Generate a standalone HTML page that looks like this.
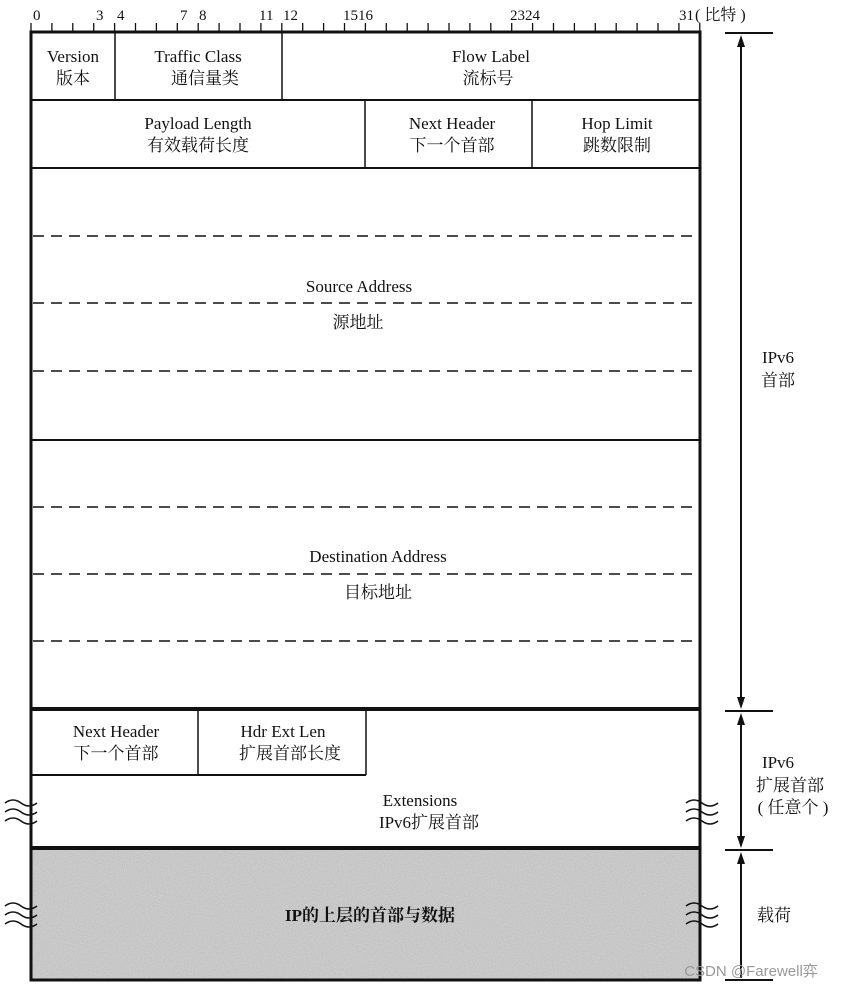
<!DOCTYPE html>
<html><head><meta charset="utf-8"><style>
html,body{margin:0;padding:0;background:#fff;}
svg{display:block}
text{font-family:"Liberation Serif","Noto Serif CJK SC",serif;fill:#111;font-size:17px;text-anchor:middle}
.n{font-size:15px;text-anchor:start}
</style></head><body>
<svg width="845" height="991" viewBox="0 0 845 991" xmlns="http://www.w3.org/2000/svg">
<defs>
<filter id="noise" x="0" y="0" width="100%" height="100%">
<feTurbulence type="fractalNoise" baseFrequency="0.9" numOctaves="2" seed="3"/>
<feColorMatrix type="matrix" values="0 0 0 0 0.5  0 0 0 0 0.5  0 0 0 0 0.5  0 0 0 -1.6 1.1"/>
</filter>
</defs>
<path stroke="#111" stroke-width="1.3" fill="none" d="M31 23V31 M51.9 23V31 M72.8 23V31 M93.7 23V31 M114.6 23V31 M135.5 23V31 M156.4 23V31 M177.3 23V31 M198.2 23V31 M219.1 23V31 M240 23V31 M260.9 23V31 M281.8 23V31 M302.7 23V31 M323.6 23V31 M344.5 23V31 M365.4 23V31 M386.3 23V31 M407.2 23V31 M428.1 23V31 M449 23V31 M469.9 23V31 M490.8 23V31 M511.7 23V31 M532.6 23V31 M553.5 23V31 M574.4 23V31 M595.3 23V31 M616.2 23V31 M637.1 23V31 M658 23V31 M678.9 23V31 M699.8 23V31"/>
<text class="n" x="33" y="20">0</text>
<text class="n" x="96" y="20">3</text>
<text class="n" x="117" y="20">4</text>
<text class="n" x="180" y="20">7</text>
<text class="n" x="199" y="20">8</text>
<text class="n" x="259" y="20">11</text>
<text class="n" x="283" y="20">12</text>
<text class="n" x="343" y="20">15</text>
<text class="n" x="358" y="20">16</text>
<text class="n" x="510" y="20">23</text>
<text class="n" x="525" y="20">24</text>
<text class="n" x="679" y="20">31</text>
<text class="n" x="695" y="20" style="font-size:16px">( 比特 )</text>
<rect x="31" y="848" width="669" height="132" fill="#cdcdcd"/>
<rect x="31" y="848" width="669" height="132" filter="url(#noise)"/>
<g fill="none" stroke="#111">
<rect x="31" y="32" width="669" height="948" stroke-width="3"/>
<line x1="31" y1="100" x2="700" y2="100" stroke-width="2"/>
<line x1="31" y1="168" x2="700" y2="168" stroke-width="2"/>
<line x1="31" y1="440" x2="700" y2="440" stroke-width="2"/>
<line x1="31" y1="709" x2="700" y2="709" stroke-width="4"/>
<line x1="31" y1="775" x2="366" y2="775" stroke-width="2"/>
<line x1="31" y1="848" x2="700" y2="848" stroke-width="4"/>
<line x1="115" y1="32" x2="115" y2="100" stroke-width="1.5"/>
<line x1="282" y1="32" x2="282" y2="100" stroke-width="1.5"/>
<line x1="365" y1="100" x2="365" y2="168" stroke-width="1.5"/>
<line x1="532" y1="100" x2="532" y2="168" stroke-width="1.5"/>
<line x1="198" y1="709" x2="198" y2="775" stroke-width="1.5"/>
<line x1="366" y1="709" x2="366" y2="775" stroke-width="1.5"/>
<g stroke-dasharray="11 7" stroke-width="1.6">
<line x1="33" y1="236" x2="698" y2="236"/>
<line x1="33" y1="303" x2="698" y2="303"/>
<line x1="33" y1="371" x2="698" y2="371"/>
<line x1="33" y1="507" x2="698" y2="507"/>
<line x1="33" y1="574" x2="698" y2="574"/>
<line x1="33" y1="641" x2="698" y2="641"/>
</g>
<g stroke-width="1.5">
<path d="M5 803 q8 -6 16 0 t16 0 M5 812 q8 -6 16 0 t16 0 M5 821 q8 -6 16 0 t16 0"/>
<path d="M686 803 q8 -6 16 0 t16 0 M686 812 q8 -6 16 0 t16 0 M686 821 q8 -6 16 0 t16 0"/>
<path d="M5 906 q8 -6 16 0 t16 0 M5 915 q8 -6 16 0 t16 0 M5 924 q8 -6 16 0 t16 0"/>
<path d="M686 906 q8 -6 16 0 t16 0 M686 915 q8 -6 16 0 t16 0 M686 924 q8 -6 16 0 t16 0"/>
</g>
<g stroke-width="2">
<line x1="725" y1="33" x2="773" y2="33"/>
<line x1="725" y1="711" x2="773" y2="711"/>
<line x1="725" y1="850" x2="773" y2="850"/>
<line x1="725" y1="980" x2="773" y2="980"/>
<line x1="741" y1="40" x2="741" y2="704"/>
<line x1="741" y1="718" x2="741" y2="843"/>
<line x1="741" y1="857" x2="741" y2="978"/>
</g>
</g>
<g fill="#111">
<path d="M741 35 l-4 12 h8z M741 709 l-4 -12 h8z M741 713 l-4 12 h8z M741 848 l-4 -12 h8z M741 852 l-4 12 h8z"/>
</g>
<text x="73" y="62">Version</text><text x="73" y="84">版本</text>
<text x="198" y="62">Traffic Class</text><text x="205" y="84">通信量类</text>
<text x="491" y="62">Flow Label</text><text x="488" y="84">流标号</text>
<text x="198" y="129">Payload Length</text><text x="198" y="151">有效载荷长度</text>
<text x="452" y="129">Next Header</text><text x="452" y="151">下一个首部</text>
<text x="617" y="129">Hop Limit</text><text x="617" y="151">跳数限制</text>
<text x="359" y="292">Source Address</text><text x="358" y="328">源地址</text>
<text x="378" y="562">Destination Address</text><text x="378" y="598">目标地址</text>
<text x="116" y="737">Next Header</text><text x="116" y="759">下一个首部</text>
<text x="283" y="737">Hdr Ext Len</text><text x="290" y="759">扩展首部长度</text>
<text x="420" y="806">Extensions</text><text x="429" y="828">IPv6扩展首部</text>
<text x="370" y="921" style="font-weight:bold">IP的上层的首部与数据</text>
<text x="778" y="363">IPv6</text><text x="778" y="386">首部</text>
<text x="778" y="768">IPv6</text><text x="790" y="791">扩展首部</text><text x="793" y="813">( 任意个 )</text>
<text x="774" y="921">载荷</text>
<text x="751" y="976" style="font-family:'Liberation Sans','Noto Sans CJK SC',sans-serif;font-size:15px;fill:#999">CSDN @Farewell弈</text>
</svg>
</body></html>
